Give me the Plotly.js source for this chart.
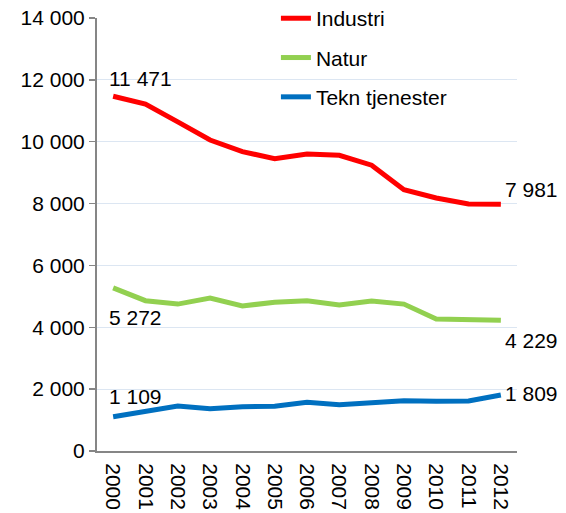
<!DOCTYPE html>
<html>
<head>
<meta charset="utf-8">
<script src="https://cdn.plot.ly/plotly-3.0.1.min.js"></script>
<style>html,body{margin:0;padding:0;background:#fff}#chart{width:566px;height:513px}</style>
</head>
<body>
<div id="chart"></div>
<script>
const years = [2000, 2001, 2002, 2003, 2004, 2005, 2006, 2007, 2008, 2009, 2010, 2011, 2012];
const industri = [11471, 11220, 10640, 10055, 9680, 9450, 9600, 9560, 9240, 8450, 8180, 7990, 7981];
const natur = [5272, 4860, 4750, 4945, 4690, 4810, 4860, 4720, 4850, 4750, 4270, 4240, 4229];
const tekn = [1109, 1270, 1455, 1365, 1430, 1450, 1575, 1495, 1545, 1625, 1605, 1615, 1809];
const seriesNames = ['Industri', 'Natur', 'Tekn tjenester'];
const yTicks = [0, 2000, 4000, 6000, 8000, 10000, 12000, 14000];

const colors = ['#ff0000', '#92d050', '#0070c0'];
const all = [industri, natur, tekn];
const font = {family: 'Liberation Sans, Arial, sans-serif', size: 21, color: '#000'};

const traces = all.map((vals, i) => ({
  x: years, y: vals, type: 'scatter', mode: 'lines', name: seriesNames[i],
  legendgroup: 'g' + i,
  line: {color: colors[i], width: 5}
}));

function fmt(v) { return String(v).replace(/\B(?=(\d{3})+(?!\d))/g, ' '); }

const last = years.length - 1;
const place = [
  {fy: 18, ly: 15},
  {fy: -30, ly: -20},
  {fy: 20, ly: 2}
];
const annotations = [];
all.forEach((vals, i) => {
  annotations.push({x: years[0], y: vals[0], text: fmt(vals[0]), showarrow: false,
    xanchor: 'left', xshift: -6, yshift: place[i].fy, font: font});
  annotations.push({x: years[last], y: vals[last], text: fmt(vals[last]), showarrow: false,
    xanchor: 'left', xshift: 2, yshift: place[i].ly, font: font});
});

const layout = {
  width: 566, height: 513,
  margin: {l: 97, r: 49, t: 18, b: 62, autoexpand: false},
  paper_bgcolor: '#fff', plot_bgcolor: '#fff',
  font: font,
  showlegend: true,
  legend: {x: 0.426, y: 1.046, xanchor: 'left', yanchor: 'top', bgcolor: 'rgba(0,0,0,0)',
    font: font, tracegroupgap: 9},
  xaxis: {range: [1999.5, 2012.5], tickmode: 'array', tickvals: years, ticktext: years.map(String),
    showgrid: false, showline: true, linecolor: '#868686', linewidth: 2,
    ticks: '', tickangle: 90, tickfont: font, zeroline: false, ticklabelstandoff: 6},
  yaxis: {range: [0, 14000], tickmode: 'array', tickvals: yTicks, ticktext: yTicks.map(fmt), showgrid: true,
    gridcolor: '#dce6f2', gridwidth: 1, showline: true, linecolor: '#868686', linewidth: 2,
    ticks: 'outside', ticklen: 6, tickcolor: '#868686', tickwidth: 1.5, tickfont: font, zeroline: false},
  annotations: annotations
};

Plotly.newPlot('chart', traces, layout, {displayModeBar: false, staticPlot: true});
</script>
</body>
</html>
